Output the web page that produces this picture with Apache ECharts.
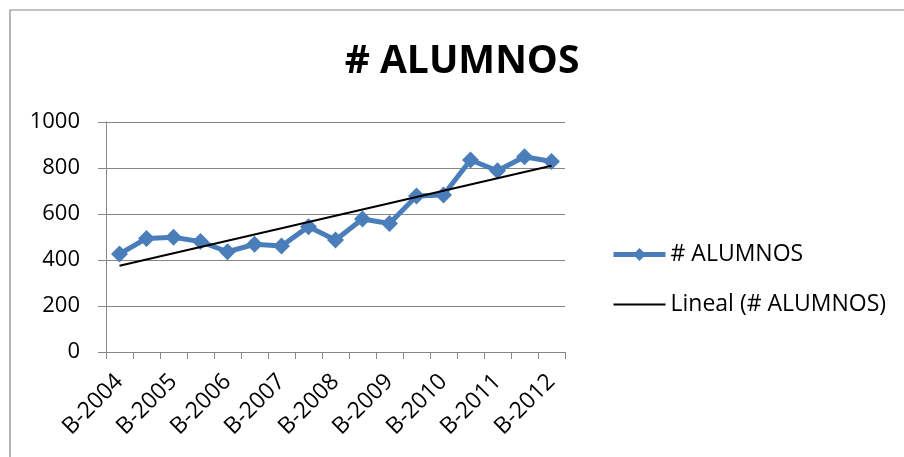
<!DOCTYPE html>
<html>
<head>
<meta charset="utf-8">
<script src="https://cdn.jsdelivr.net/npm/echarts@6/dist/echarts.min.js"></script>
<style>
  html, body { margin: 0; padding: 0; background: #fff; }
  #chart { width: 904px; height: 457px; }
</style>
</head>
<body>
<div id="chart"></div>
<script>
// semesters, only every second one gets a label
var semesters = ['B-2004', 'A-2005', 'B-2005', 'A-2006', 'B-2006', 'A-2007', 'B-2007', 'A-2008', 'B-2008',
  'A-2009', 'B-2009', 'A-2010', 'B-2010', 'A-2011', 'B-2011', 'A-2012', 'B-2012'];
var alumnos = [426, 494, 499, 480, 436, 468, 461, 545, 487, 578, 559, 678, 683, 835, 788, 849, 828];
// trendline ends
var trendStart = ['B-2004', 375];
var trendEnd = ['B-2012', 810];
var yTicks = [0, 200, 400, 600, 800, 1000];

var font = '"Open Sans", "Noto Sans", sans-serif';
var blue = '#4A7EBB';
var chart = echarts.init(document.getElementById('chart'));

var option = {
  animation: false,
  backgroundColor: '#fff',
  title: {
    text: '# ALUMNOS',
    left: 457,
    textAlign: 'center',
    top: 37,
    textStyle: { fontFamily: font, fontWeight: 'bold', fontSize: 39, color: '#000' }
  },
  graphic: [{
    type: 'rect',
    shape: { x: 10, y: 10, width: 920, height: 470 },
    style: { fill: 'none', stroke: '#868686', lineWidth: 1.2 },
    silent: true
  }],
  legend: {
    orient: 'vertical',
    left: 606,
    top: 238,
    itemWidth: 52,
    itemHeight: 16,
    itemGap: 27,
    textStyle: { fontFamily: font, fontSize: 23, color: '#000' },
    data: [
      { name: '# ALUMNOS', lineStyle: { width: 5, color: blue }, itemStyle: { color: blue } },
      { name: 'Lineal (# ALUMNOS)', lineStyle: { width: 2, color: '#000' }, itemStyle: { opacity: 0 } }
    ]
  },
  grid: { left: 106, right: 339, top: 122, bottom: 105, containLabel: false },
  xAxis: {
    type: 'category',
    data: semesters,
    boundaryGap: true,
    axisLine: { lineStyle: { color: '#868686', width: 1 } },
    axisTick: {
      show: true,
      interval: 0,
      length: 7,
      lineStyle: { color: '#868686', width: 1 }
    },
    axisLabel: {
      interval: 0,
      rotate: 45,
      margin: 26,
      fontFamily: font,
      fontSize: 23,
      color: '#000',
      formatter: function (v, i) { return i % 2 === 0 ? v : ''; }
    },
    splitLine: { show: false }
  },
  yAxis: {
    type: 'value',
    min: yTicks[0],
    max: yTicks[yTicks.length - 1],
    interval: 200,
    axisLine: { show: true, lineStyle: { color: '#868686', width: 1 } },
    axisTick: { show: true, length: 8, lineStyle: { color: '#868686' } },
    axisLabel: {
      margin: 26, fontFamily: font, fontSize: 22, color: '#000',
      formatter: function (v) { return String(v); }
    },
    splitLine: { lineStyle: { color: '#868686', width: 1 } }
  },
  series: [
    {
      name: '# ALUMNOS',
      type: 'line',
      data: alumnos,
      symbol: 'diamond',
      symbolSize: 17,
      color: blue,
      lineStyle: { color: blue, width: 5 },
      itemStyle: { color: blue },
      z: 2
    },
    {
      name: 'Lineal (# ALUMNOS)',
      type: 'line',
      data: [trendStart, trendEnd],
      symbol: 'none',
      color: '#000',
      lineStyle: { color: '#000', width: 2 },
      z: 3
    }
  ]
};

chart.setOption(option);
</script>
</body>
</html>
